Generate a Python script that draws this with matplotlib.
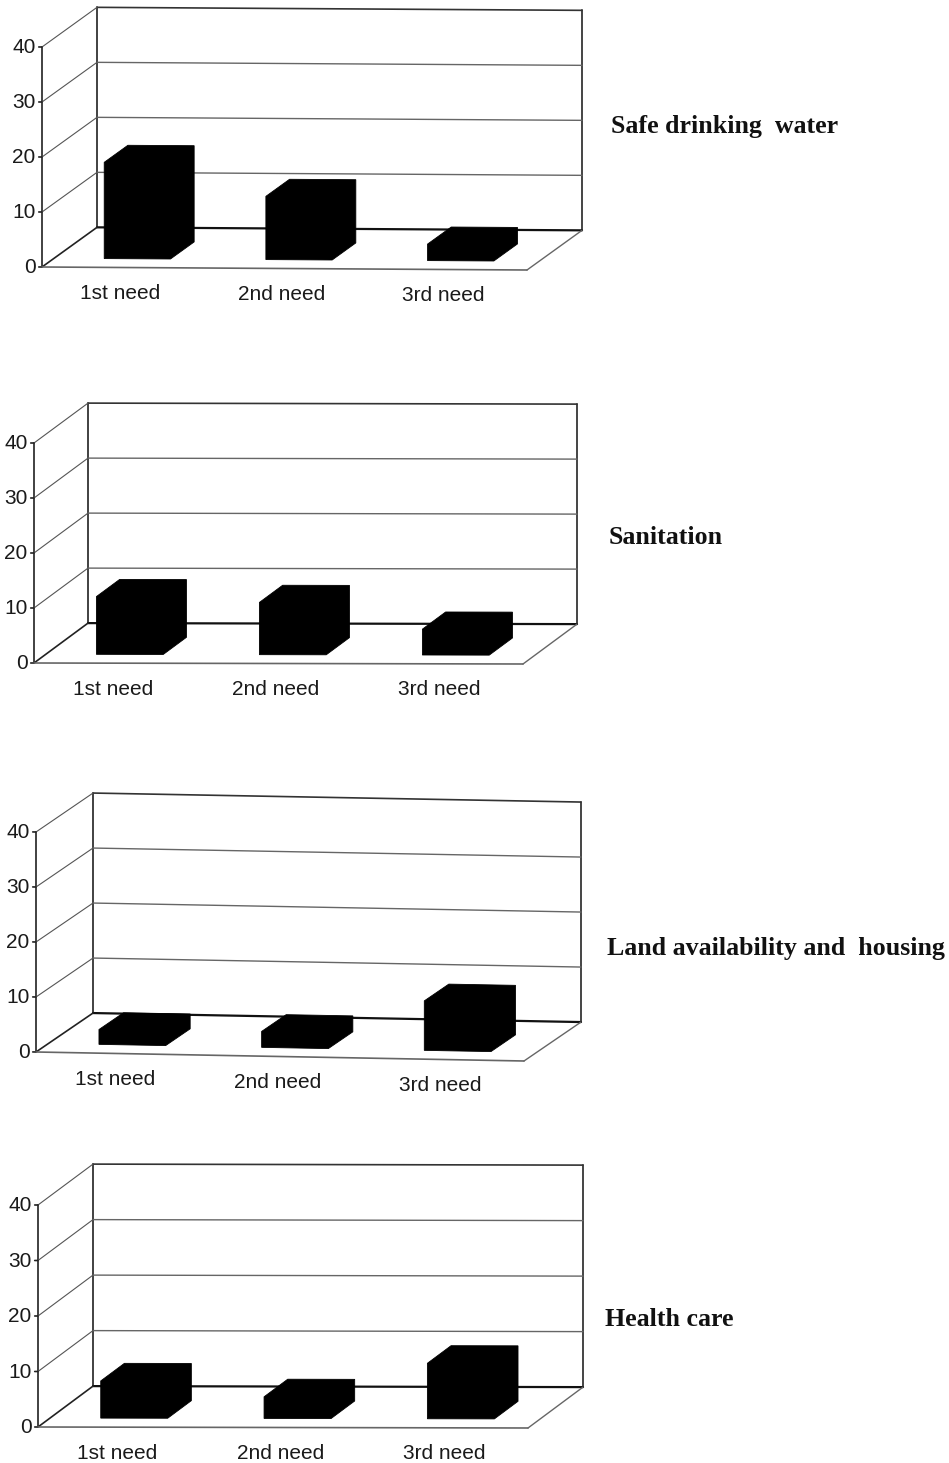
import matplotlib
matplotlib.use("Agg")
import matplotlib.pyplot as plt
from matplotlib.patches import Polygon
from matplotlib.transforms import Affine2D

needs = ["1st need", "2nd need", "3rd need"]
ticks = [0, 10, 20, 30, 40]

titles = ["Safe drinking  water", "Sanitation", "Land availability and  housing", "Health care"]
water = [17.5, 11.5, 3]
sanitation = [10.5, 9.5, 4.7]
land = [2.7, 2.9, 9]
health = [6.7, 3.9, 10]
panel_values = [water, sanitation, land, health]

# pixel layout of each chart: front origin, front right corner, depth offset, top of back wall
origins = [(42, 267), (34, 663), (36, 1052), (38, 1427)]
front_right = [(527, 270), (523, 664), (524, 1061), (528, 1428)]
depth_px = [(55, -40), (54, -40), (57, -40), (55, -41)]
px_per_unit = [5.5, 5.5, 5.5, 5.55]
title_pos = [(611, 126), (609, 537), (607, 949), (605, 1319)]

BAR_W = 0.41
BAR_D0, BAR_D1 = 0.22, 0.65

fig = plt.figure(figsize=(9.49, 14.63), dpi=100)
ax = fig.add_axes([0, 0, 1, 1])
ax.set_xlim(0, 949)
ax.set_ylim(1463, 0)
ax.axis("off")


def panel(i, values):
    ox, oy = origins[i]
    rx, ry = front_right[i]
    dx, dy = depth_px[i]
    s = px_per_unit[i]
    n = len(values)
    # category/value units to pixels, with the slight tilt of the scan
    tr = Affine2D.from_values((rx - ox) / n, (ry - oy) / n, 0, -s, ox, oy) + ax.transData
    ddx = dx * n / (rx - ox)
    ddv = -dy / s

    def p(x, v, d=0.0):
        return (x + d * ddx, v + d * ddv)

    def line(a, b, color="#222222", lw=1.0):
        ax.plot([a[0], b[0]], [a[1], b[1]], color=color, lw=lw, transform=tr, solid_capstyle="round")

    # back wall
    line(p(0, 0, 1), p(0, 40, 1), color="#333333", lw=1.3)
    line(p(n, 0, 1), p(n, 40, 1), color="#444444", lw=1.4)
    line(p(0, 40, 1), p(n, 40, 1), color="#333333", lw=1.2)
    line(p(0, 0, 1), p(n, 0, 1), color="#111111", lw=1.6)
    for t in ticks[1:-1]:
        line(p(0, t, 1), p(n, t, 1), color="#666666", lw=1.0)
    # side wall and floor
    line(p(0, 0), p(0, 40), color="#333333", lw=1.3)
    for t in ticks:
        line(p(0, t), p(0, t, 1), color="#555555" if t else "#222222", lw=0.8 if t else 1.2)
        line((p(0, t)[0] - 0.02, t), p(0, t), lw=1.2)
        ax.text(p(0, t)[0] - 0.04, t - 0.1, str(t), transform=tr, ha="right", va="center",
                family="Liberation Sans", fontsize=15, color="#1a1a1a")
    line(p(0, 0), p(n, 0), color="#666666", lw=1.2)
    line(p(n, 0), p(n, 0, 1), color="#666666", lw=1.0)

    # bars
    for j, v in enumerate(values):
        l = j + 0.515 - BAR_W / 2
        r = j + 0.515 + BAR_W / 2
        outline = [p(l, 0, BAR_D0), p(r, 0, BAR_D0), p(r, 0, BAR_D1), p(r, v, BAR_D1),
                   p(l, v, BAR_D1), p(l, v, BAR_D0)]
        ax.add_patch(Polygon(outline, closed=True, fc="black", ec="black", lw=0.6, transform=tr, zorder=3))
        ax.text(j + 0.485, -4.7, needs[j], transform=tr, ha="center", va="center",
                family="Liberation Sans", fontsize=15, color="#1a1a1a")


for i, values in enumerate(panel_values):
    panel(i, values)
    ax.text(title_pos[i][0], title_pos[i][1], titles[i], ha="left", va="center",
            family="Liberation Serif", weight="bold", fontsize=18.6, color="#111111")

fig.savefig("out.png", dpi=100)
